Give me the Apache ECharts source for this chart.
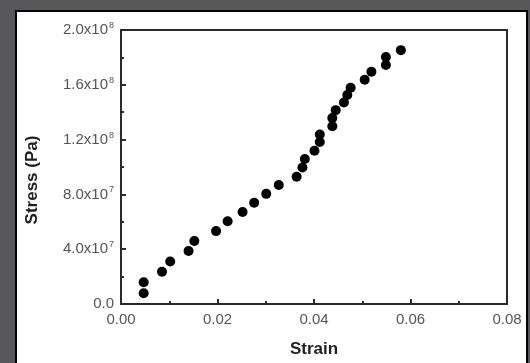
<!DOCTYPE html>
<html>
<head>
<meta charset="utf-8">
<script src="https://cdn.jsdelivr.net/npm/echarts@6/dist/echarts.min.js"></script>
<style>
  html, body { margin: 0; padding: 0; }
  body { width: 530px; height: 363px; background: #58585a; position: relative; overflow: hidden; }
  #panel {
    position: absolute; left: 15px; top: 10px; width: 513px; height: 360px;
    box-sizing: border-box; background: #fff;
    border: 2px solid #000; border-bottom: none;
  }
  #chart { position: absolute; left: 0; top: 0; width: 530px; height: 363px; }
</style>
</head>
<body>
<div id="panel"></div>
<div id="chart"></div>
<script>
// strain (unitless) vs stress (Pa)
const strain = [
  0.0047, 0.0047, 0.0085, 0.0102, 0.0140, 0.0152, 0.0197, 0.0221, 0.0252,
  0.0276, 0.0301, 0.0327, 0.0364, 0.0376, 0.0381, 0.0401, 0.0412, 0.0412,
  0.0438, 0.0438, 0.0445, 0.0462, 0.0469, 0.0476, 0.0505, 0.0519, 0.0549,
  0.0549, 0.0580
];
const stress = [
  1.59e7, 0.79e7, 2.36e7, 3.10e7, 3.87e7, 4.60e7, 5.32e7, 6.04e7, 6.71e7,
  7.39e7, 8.04e7, 8.69e7, 9.29e7, 9.96e7, 1.059e8, 1.119e8, 1.182e8, 1.237e8,
  1.297e8, 1.357e8, 1.415e8, 1.471e8, 1.526e8, 1.579e8, 1.637e8, 1.695e8, 1.745e8,
  1.803e8, 1.853e8
];

const xTicks = [0, 0.02, 0.04, 0.06, 0.08];
const yTicks = [0, 4e7, 8e7, 1.2e8, 1.6e8, 2e8];

const font = "Liberation Sans";
const frameColor = "#2a2a2a";
const labelColor = "#555";

function sciLabel(v) {
  if (v === 0) return "0.0";
  const exp = Math.floor(Math.log10(v));
  const mant = (v / Math.pow(10, exp)).toFixed(1);
  return "{m|" + mant + "x10}{e|" + exp + "}";
}

const chart = echarts.init(document.getElementById("chart"));

chart.setOption({
  animation: false,
  textStyle: { fontFamily: font },
  grid: {
    left: 121,
    right: 23,
    top: 30,
    bottom: 56,
    show: true,
    borderColor: frameColor,
    borderWidth: 2,
  },
  xAxis: {
    type: "value",
    min: xTicks[0],
    max: xTicks[xTicks.length - 1],
    interval: 0.02,
    name: "Strain",
    nameLocation: "middle",
    nameGap: 37,
    nameTextStyle: { fontSize: 17, fontWeight: "bold", color: "#222", fontFamily: font },
    axisLine: { lineStyle: { color: frameColor, width: 2 } },
    axisTick: { inside: true, length: 5, lineStyle: { color: frameColor, width: 2 } },
    minorTick: { show: true, splitNumber: 2, length: 3, lineStyle: { color: frameColor, width: 2 } },
    splitLine: { show: false },
    axisLabel: {
      fontSize: 15,
      color: labelColor,
      margin: 8,
      formatter: (v) => v.toFixed(2),
    },
  },
  yAxis: {
    type: "value",
    min: yTicks[0],
    max: yTicks[yTicks.length - 1],
    interval: 4e7,
    name: "Stress (Pa)",
    nameLocation: "middle",
    nameGap: 80,
    nameTextStyle: {
      fontSize: 17, fontWeight: "bold", color: "#222", fontFamily: font,
      padding: [0, 26, 0, 0],
    },
    axisLine: { lineStyle: { color: frameColor, width: 2 } },
    axisTick: { inside: true, length: 5, lineStyle: { color: frameColor, width: 2 } },
    minorTick: { show: true, splitNumber: 2, length: 3, lineStyle: { color: frameColor, width: 2 } },
    splitLine: { show: false },
    axisLabel: {
      fontSize: 15,
      color: labelColor,
      margin: 7,
      formatter: sciLabel,
      rich: {
        m: { fontSize: 15, color: labelColor, fontFamily: font },
        e: { fontSize: 9, color: labelColor, fontFamily: font, padding: [0, 0, 9, 1] },
      },
    },
  },
  series: [
    {
      type: "scatter",
      data: strain.map((s, i) => [s, stress[i]]),
      symbol: "circle",
      symbolSize: 10,
      itemStyle: { color: "#000", opacity: 1 },
    },
  ],
});
</script>
</body>
</html>
